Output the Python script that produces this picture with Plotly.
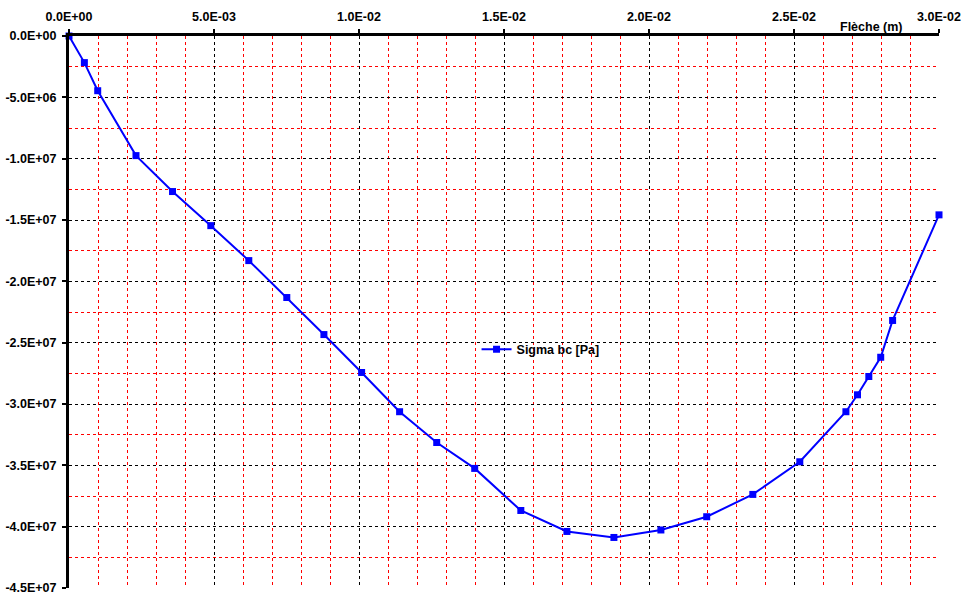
import plotly.graph_objects as go

# Data (Flèche in m, Sigma bc in Pa)
fleche = [0.0, 0.53e-3, 0.99e-3, 2.31e-3, 3.57e-3, 4.89e-3, 6.20e-3, 7.51e-3, 8.79e-3,
          10.09e-3, 11.40e-3, 12.68e-3, 13.99e-3, 15.58e-3, 17.17e-3, 18.79e-3, 20.41e-3,
          21.99e-3, 23.58e-3, 25.20e-3, 26.79e-3, 27.19e-3, 27.58e-3, 27.99e-3, 28.40e-3, 30.0e-3]
sigma_mpa = [0.0, -2.17, -4.46, -9.75, -12.68, -15.46, -18.31, -21.32, -24.34, -27.43,
             -30.63, -33.14, -35.25, -38.68, -40.39, -40.88, -40.27, -39.19, -37.37, -34.71,
             -30.63, -29.25, -27.76, -26.19, -23.19, -14.58]
sigma = [v * 1e6 for v in sigma_mpa]

x_tickvals = [0.0, 0.005, 0.010, 0.015, 0.020, 0.025, 0.030]
x_ticktext = ["0.0E+00", "5.0E-03", "1.0E-02", "1.5E-02", "2.0E-02", "2.5E-02", "3.0E-02"]
y_tickvals = [0, -5e6, -10e6, -15e6, -20e6, -25e6, -30e6, -35e6, -40e6, -45e6]
y_ticktext = ["0.0E+00", "-5.0E+06", "-1.0E+07", "-1.5E+07", "-2.0E+07", "-2.5E+07",
              "-3.0E+07", "-3.5E+07", "-4.0E+07", "-4.5E+07"]

FONT = "Liberation Sans"
BOLD = dict(family=FONT, size=12.5, color="black")

fig = go.Figure()
fig.add_trace(go.Scatter(
    x=fleche, y=sigma, mode="lines+markers", name="<b>Sigma bc [Pa]</b>",
    line=dict(color="#0000FF", width=2),
    marker=dict(symbol="square", size=7, color="#0000FF"),
    cliponaxis=False,
))

fig.update_layout(
    width=970, height=604,
    margin=dict(l=69, r=31, t=36, b=16, autoexpand=False),
    paper_bgcolor="white", plot_bgcolor="white",
    font=dict(family=FONT, size=12, color="black"),
    showlegend=True,
    legend=dict(x=0.542, y=0.432, xanchor="center", yanchor="middle",
                bgcolor="rgba(0,0,0,0)", borderwidth=0, font=BOLD),
    xaxis=dict(
        side="top", range=[0, 0.030], tickvals=x_tickvals,
        ticktext=["<b>%s</b>" % t for t in x_ticktext],
        tickfont=BOLD, showline=True, linecolor="black", linewidth=3,
        ticks="outside", ticklen=4, tickwidth=2, tickcolor="black",
        ticklabelstandoff=3,
        showgrid=True, gridcolor="black", griddash="3px,3px", gridwidth=1,
        minor=dict(dtick=0.001, tick0=0, showgrid=True, gridcolor="red",
                   griddash="3px,3px", gridwidth=1),
        zeroline=False, mirror=False, automargin=False,
    ),
    yaxis=dict(
        range=[-45e6, 0], tickvals=y_tickvals,
        ticktext=["<b>%s</b>" % t for t in y_ticktext],
        tickfont=BOLD, showline=True, linecolor="black", linewidth=3,
        ticks="outside", ticklen=4, tickwidth=2, tickcolor="black",
        ticklabelstandoff=3,
        showgrid=True, gridcolor="black", griddash="3px,3px", gridwidth=1,
        minor=dict(dtick=2.5e6, tick0=0, showgrid=True, gridcolor="red",
                   griddash="3px,3px", gridwidth=1),
        zeroline=False, automargin=False,
    ),
    shapes=[dict(type="rect", xref="paper", yref="paper",
                 x0=(438 - 69) / 870, x1=(650 - 69) / 870,
                 y0=(588.3 - 372) / 552.3, y1=(588.3 - 328) / 552.3,
                 fillcolor="white", line=dict(width=0), layer="between")],
    annotations=[dict(text="<b>Flèche (m)</b>", xref="paper", yref="paper",
                      x=(905 - 69) / 870, y=(588.3 - 27) / 552.3,
                      xanchor="right", yanchor="middle", showarrow=False,
                      font=BOLD)],
)

fig.write_html("out.html", config={"displayModeBar": False},
               post_script="document.body.style.margin='0';document.body.style.padding='0';")
